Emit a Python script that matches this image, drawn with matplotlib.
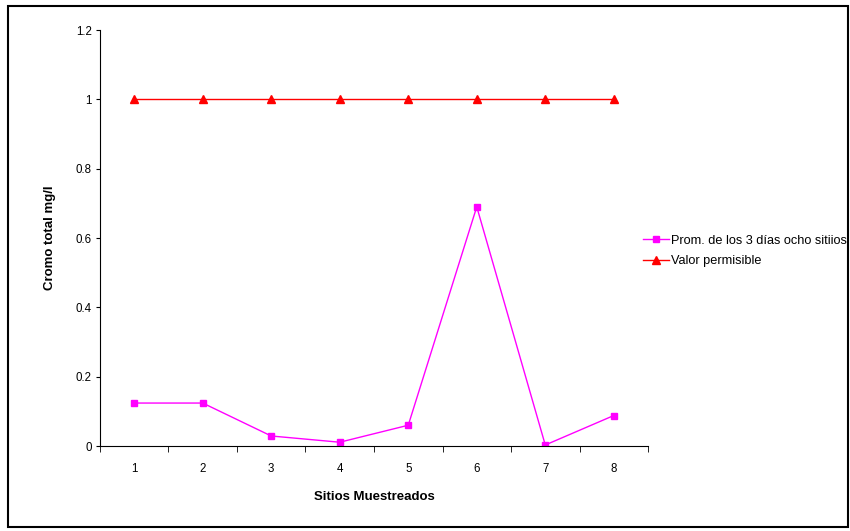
import matplotlib.pyplot as plt
from matplotlib.patches import Rectangle
import numpy as np

plt.rcParams['font.family'] = ['Liberation Sans', 'DejaVu Sans']

# --- data
sitios = [1, 2, 3, 4, 5, 6, 7, 8]
promedio = [0.124, 0.124, 0.029, 0.011, 0.060, 0.690, 0.003, 0.088]
permisible = [1, 1, 1, 1, 1, 1, 1, 1]
y_ticks = [0, 0.2, 0.4, 0.6, 0.8, 1, 1.2]
y_labels = ['0', '0.2', '0.4', '0.6', '0.8', '1', '1.2']

fig = plt.figure(figsize=(8.5, 5.31), dpi=100)
ax = fig.add_axes([0.1176, 0.160, 0.6448, 0.7835])

ax.plot(sitios, promedio, color='#FF00FF', marker='s', markersize=5, lw=1,
        label='Prom. de los 3 días ocho sitiios')
ax.plot(sitios, permisible, color='#FF0000', marker='^', markersize=5.5, lw=1,
        label='Valor permisible')

ax.set_xlim(0.5, 8.5)
ax.set_ylim(0, 1.2)
ax.set_yticks(y_ticks)
ax.set_yticklabels(y_labels)
ax.set_xticks(sitios)
ax.set_xticks(np.arange(0.5, 9, 1), minor=True)
ax.tick_params(axis='x', which='major', length=0, pad=12, labelsize=8.3)
ax.tick_params(axis='x', which='minor', length=4, direction='out')
ax.tick_params(axis='y', length=3, direction='out', labelsize=8.3, pad=3)

for s in ['top', 'right']:
    ax.spines[s].set_visible(False)

ax.set_xlabel('Sitios Muestreados', fontsize=9.5, fontweight='bold', labelpad=12)
ax.set_ylabel('Cromo total mg/l', fontsize=9.5, fontweight='bold', labelpad=14)

leg = ax.legend(loc='center left', bbox_to_anchor=(0.97, 0.469), frameon=False,
                fontsize=9.2, handlelength=2.0, handletextpad=0.15, labelspacing=0.65)

# chart border
fig.patches.append(Rectangle((0.0094, 0.008), 0.988, 0.981, transform=fig.transFigure,
                             fill=False, edgecolor='black', lw=1.5))

fig.savefig('out.png', dpi=100)
